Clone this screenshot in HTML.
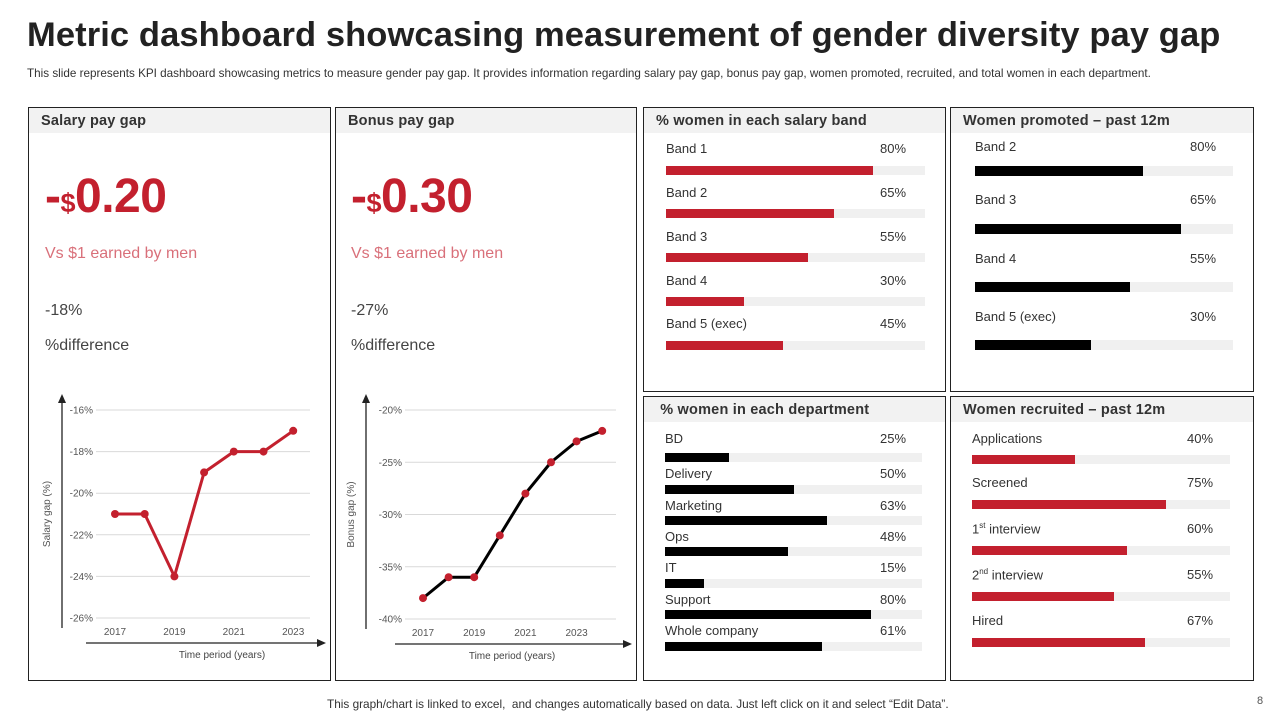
<!DOCTYPE html>
<html><head><meta charset="utf-8">
<style>
*{margin:0;padding:0;box-sizing:border-box}
body{width:1280px;height:720px;background:#fff;position:relative;overflow:hidden;font-family:"Liberation Sans",Arial,sans-serif;color:#333}
.abs{position:absolute}
.panel{position:absolute;border:1px solid #222;background:#fff}
.ph{position:absolute;left:0;right:0;top:0;height:25px;background:#f2f2f2;font-weight:bold;font-size:14.5px;color:#333;padding:5px 0 0 12px;font-family:"Liberation Sans",sans-serif;letter-spacing:0.2px;white-space:nowrap}
.lbl{position:absolute;font-size:13px;color:#333;white-space:nowrap}
.track{position:absolute;background:#f0f0f0}
.fill{position:absolute;left:0;top:0;bottom:0}
</style></head><body>
<div class="abs" style="left:27px;top:16px;font-size:34.5px;font-weight:bold;color:#222;font-family:'Liberation Sans',sans-serif;letter-spacing:0.1px;white-space:nowrap">Metric dashboard showcasing measurement of gender diversity pay gap</div>
<div class="abs" style="left:27px;top:67px;font-size:11.7px;color:#333;white-space:nowrap">This slide represents KPI dashboard showcasing metrics to measure gender pay gap. It provides information regarding salary pay gap, bonus pay gap, women promoted, recruited, and total women in each department.</div>

<div class="panel" style="left:28px;top:107px;width:303px;height:574px"><div class="ph">Salary pay gap</div></div>
<div class="panel" style="left:335px;top:107px;width:302px;height:574px"><div class="ph">Bonus pay gap</div></div>
<div class="panel" style="left:643px;top:107px;width:303px;height:285px"><div class="ph">% women in each salary band</div></div>
<div class="panel" style="left:950px;top:107px;width:304px;height:285px"><div class="ph">Women promoted – past 12m</div></div>
<div class="panel" style="left:643px;top:396px;width:303px;height:285px"><div class="ph">&nbsp;% women in each department</div></div>
<div class="panel" style="left:950px;top:396px;width:304px;height:285px"><div class="ph">Women recruited – past 12m</div></div>

<div class="abs" style="left:45px;top:169px;font-size:48px;font-weight:bold;color:#c3202e;letter-spacing:-0.5px">-<span style="font-size:27px">$</span>0.20</div>
<div class="abs" style="left:45px;top:245px;font-size:16px;color:#d9707a">Vs $1 earned by men</div>
<div class="abs" style="left:45px;top:302px;font-size:16px;color:#444">-18%</div>
<div class="abs" style="left:45px;top:337px;font-size:16px;color:#444">%difference</div>
<div class="abs" style="left:351px;top:169px;font-size:48px;font-weight:bold;color:#c3202e;letter-spacing:-0.5px">-<span style="font-size:27px">$</span>0.30</div>
<div class="abs" style="left:351px;top:245px;font-size:16px;color:#d9707a">Vs $1 earned by men</div>
<div class="abs" style="left:351px;top:302px;font-size:16px;color:#444">-27%</div>
<div class="abs" style="left:351px;top:337px;font-size:16px;color:#444">%difference</div>

<svg class="abs" id="c1" style="left:0;top:0" width="640" height="720"></svg>

<div class="abs" style="left:327px;top:697px;font-size:11.8px;color:#333;white-space:nowrap">This graph/chart is linked to excel,&nbsp; and changes automatically based on data. Just left click on it and select “Edit Data”.</div>
<div class="abs" style="left:1257px;top:695px;font-size:11px;color:#555">8</div>

<script>
const salaryYears=[2017,2018,2019,2020,2021,2022,2023];
const salaryValues=[-21,-21,-24,-19,-18,-18,-17];
const salaryTicks=[-16,-18,-20,-22,-24,-26];
const salaryXLabels=[2017,2019,2021,2023];
const bonusYears=[2017,2018,2019,2020,2021,2022,2023,2024];
const bonusValues=[-38,-36,-36,-32,-28,-25,-23,-22];
const bonusTicks=[-20,-25,-30,-35,-40];
const bonusXLabels=[2017,2019,2021,2023];

const bandLabels=["Band 1","Band 2","Band 3","Band 4","Band 5 (exec)"];
const bandValues=[80,65,55,30,45];
const promotedLabels=["Band 2","Band 3","Band 4","Band 5 (exec)"];
const promotedText=["80%","65%","55%","30%"];
const promotedValues=[65,80,60,45];
const deptLabels=["BD","Delivery","Marketing","Ops","IT","Support","Whole company"];
const deptValues=[25,50,63,48,15,80,61];
const recruitLabels=["Applications","Screened","1<sup>st</sup> interview","2<sup>nd</sup> interview","Hired"];
const recruitValues=[40,75,60,55,67];

const NS="http://www.w3.org/2000/svg";
const svg=document.getElementById('c1');
function mk(tag,attrs,parent){const e=document.createElementNS(NS,tag);for(const k in attrs)e.setAttribute(k,attrs[k]);(parent||svg).appendChild(e);return e;}

function lineChart(o){
  const g=mk('g',{});
  
  
  const yMax=o.ticks[0],yMin=o.ticks[o.ticks.length-1];
  const y=v=>o.yTop+(yMax-v)/(yMax-yMin)*(o.yBot-o.yTop);
  const x=yr=>o.x0+(yr-o.years[0])*o.dx;
  o.ticks.forEach(t=>{
    const l=mk('line',{x1:o.gridL,x2:o.gridR,y1:y(t),y2:y(t),stroke:'#d9d9d9','stroke-width':1},g);
    
    
    const tx=mk('text',{x:o.gridL-3,y:y(t)+3.5,'text-anchor':'end','font-size':10,fill:'#555','font-family':'Liberation Sans'},g);
    
    
    tx.textContent=t+'%';
  });
  o.xLabels.forEach(yr=>{
    const tx=mk('text',{x:x(yr),y:o.yBot+17,'text-anchor':'middle','font-size':10,fill:'#555','font-family':'Liberation Sans'},g);
    
    
    tx.textContent=yr;
  });
  const ya=mk('line',{x1:o.axX,x2:o.axX,y1:o.yBot+10,y2:o.yTop-8,stroke:'#222','stroke-width':1.3},g);
  
  
  mk('polygon',{points:`${o.axX-4},${o.yTop-7} ${o.axX+4},${o.yTop-7} ${o.axX},${o.yTop-16}`,fill:'#222'},g);
  const xa=mk('line',{x1:o.gridL-10,x2:o.gridR+8,y1:o.yBot+25,y2:o.yBot+25,stroke:'#222','stroke-width':1.3},g);
  
  
  mk('polygon',{points:`${o.gridR+7},${o.yBot+21} ${o.gridR+7},${o.yBot+29} ${o.gridR+16},${o.yBot+25}`,fill:'#222'},g);
  const xt=mk('text',{x:o.xTitleX,y:o.yBot+40,'text-anchor':'middle','font-size':10,fill:'#444','font-family':'Liberation Sans'},g);
  
  
  xt.textContent='Time  period (years)';
  const cy=(o.yTop+o.yBot)/2;
  const yt=mk('text',{x:o.axX-12,y:cy,'text-anchor':'middle','font-size':10,fill:'#555','font-family':'Liberation Sans',transform:`rotate(-90 ${o.axX-12} ${cy})`},g);
  
  
  yt.textContent=o.yTitle;
  const pts=o.values.map((v,i)=>x(o.years[i])+','+y(v)).join(' ');
  const pl=mk('polyline',{points:pts,fill:'none',stroke:o.lineColor,'stroke-width':3,'stroke-linejoin':'round'},g);
  
  
  o.values.forEach((v,i)=>{
    const c=mk('circle',{cx:x(o.years[i]),cy:y(v),r:4,fill:'#c3202e'},g);
    
    
  });
}
lineChart({name:'salary-gap-line',years:salaryYears,values:salaryValues,ticks:salaryTicks,xLabels:salaryXLabels,
  yTop:410,yBot:618,x0:115,dx:29.7,gridL:96,gridR:310,axX:62,lineColor:'#c3202e',yTitle:'Salary gap (%)',xTitleX:222});
lineChart({name:'bonus-gap-line',years:bonusYears,values:bonusValues,ticks:bonusTicks,xLabels:bonusXLabels,
  yTop:410,yBot:619,x0:423,dx:25.6,gridL:405,gridR:616,axX:366,lineColor:'#000',yTitle:'Bonus gap (%)',xTitleX:512});

function bars(o){
  o.labels.forEach((lab,i)=>{
    const l=document.createElement('div');
    l.className='lbl';
    
    
    l.style.left=o.left+'px';l.style.top=o.labelTops[i]+'px';
    l.innerHTML=lab;
    document.body.appendChild(l);
    const p=document.createElement('div');
    p.className='lbl';
    
    
    p.style.left=o.pctX+'px';p.style.top=o.labelTops[i]+'px';
    p.textContent=o.text?o.text[i]:o.values[i]+'%';
    document.body.appendChild(p);
    const t=document.createElement('div');
    t.className='track';
    
    
    t.style.left=o.left+'px';t.style.top=o.barTops[i]+'px';t.style.width=o.width+'px';t.style.height=o.h+'px';
    const f=document.createElement('div');
    f.className='fill';
    
    
    f.style.width=(o.values[i]/100*o.width)+'px';f.style.background=o.color;
    t.appendChild(f);
    document.body.appendChild(t);
  });
}
bars({labels:bandLabels,values:bandValues,left:666,width:259,pctX:880,h:9,color:'#c3202e',
  labelTops:[141,185,229,273,316],barTops:[166,209,253,297,341]});
bars({labels:promotedLabels,values:promotedValues,text:promotedText,left:975,width:258,pctX:1190,h:10,color:'#000',
  labelTops:[139,192,251,309],barTops:[166,224,282,340]});
bars({labels:deptLabels,values:deptValues,left:665,width:257,pctX:880,h:9,color:'#000',
  labelTops:[431,466,498,529,560,592,623],barTops:[453,485,516,547,579,610,642]});
bars({labels:recruitLabels,values:recruitValues,left:972,width:258,pctX:1187,h:9,color:'#c3202e',
  labelTops:[431,475,521,567,613],barTops:[455,500,546,592,638]});
document.querySelectorAll('sup').forEach(s=>{s.style.fontSize='8px';});
</script>
</body></html>
